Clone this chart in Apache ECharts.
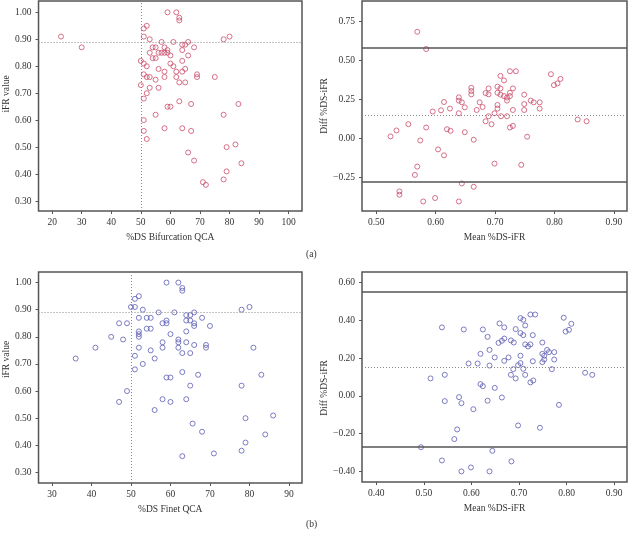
<!DOCTYPE html>
<html>
<head>
<meta charset="utf-8">
<script src="https://cdn.jsdelivr.net/npm/echarts@6/dist/echarts.min.js"></script>
<style>
  html, body { margin: 0; padding: 0; background: #fff; }
  #chart { width: 628px; height: 534px; }
</style>
</head>
<body>
<div id="chart"></div>
<script>
// (a) %DS bifurcation QCA vs iFR, and its Bland-Altman plot
var bifurcationPoints = [
  [23, 0.91], [30, 0.87], [50, 0.82], [50, 0.73], [51, 0.94], [51, 0.91], [51, 0.81], [51, 0.77],
  [51, 0.68], [51, 0.60], [51, 0.56], [52, 0.95], [52, 0.80], [52, 0.76], [52, 0.70], [52, 0.53],
  [53, 0.90], [53, 0.85], [53, 0.76], [53, 0.72], [54, 0.87], [54, 0.83], [55, 0.87], [55, 0.83],
  [55, 0.75], [55, 0.62], [56, 0.85], [56, 0.79], [56, 0.72], [57, 0.89], [57, 0.85], [58, 0.87],
  [58, 0.85], [58, 0.78], [58, 0.76], [58, 0.57], [59, 1.00], [59, 0.86], [59, 0.85], [59, 0.65],
  [60, 0.84], [60, 0.81], [60, 0.65], [61, 0.89], [61, 0.80], [62, 1.00], [62, 0.78], [62, 0.76],
  [63, 0.98], [63, 0.97], [63, 0.74], [63, 0.67], [64, 0.88], [64, 0.86], [64, 0.82], [64, 0.78],
  [64, 0.57], [65, 0.88], [65, 0.79], [65, 0.74], [66, 0.89], [66, 0.84], [66, 0.48], [67, 0.66],
  [67, 0.56], [68, 0.87], [68, 0.45], [69, 0.77], [69, 0.76], [71, 0.37], [72, 0.36], [75, 0.76],
  [78, 0.90], [78, 0.62], [78, 0.38], [79, 0.50], [79, 0.41], [80, 0.91], [82, 0.51], [83, 0.66],
  [84, 0.44]
];
var bifurcationCutoffs = [50, 0.89];

var bifurcationBland = [
  [0.569, 0.682], [0.584, 0.572], [0.524, 0.013], [0.534, 0.051], [0.554, 0.091], [0.574, -0.013],
  [0.584, 0.070], [0.595, 0.172], [0.604, -0.070], [0.609, 0.180], [0.614, -0.108], [0.614, 0.233],
  [0.619, 0.059], [0.624, 0.191], [0.625, 0.049], [0.639, 0.161], [0.639, 0.263], [0.639, 0.242],
  [0.644, 0.231], [0.649, 0.199], [0.649, 0.040], [0.660, 0.324], [0.660, 0.303], [0.660, 0.282],
  [0.664, -0.008], [0.669, 0.182], [0.674, 0.231], [0.679, 0.201], [0.684, 0.290], [0.684, 0.110],
  [0.689, 0.142], [0.689, 0.320], [0.689, 0.282], [0.694, 0.091], [0.699, 0.161], [0.699, -0.161],
  [0.704, 0.331], [0.704, 0.292], [0.704, 0.214], [0.704, 0.191], [0.709, 0.400], [0.709, 0.320],
  [0.709, 0.280], [0.710, 0.142], [0.715, 0.371], [0.715, 0.271], [0.720, 0.261], [0.720, 0.242],
  [0.720, 0.142], [0.725, 0.430], [0.725, 0.292], [0.725, 0.271], [0.725, 0.070], [0.730, 0.320],
  [0.730, 0.182], [0.730, 0.080], [0.735, 0.430], [0.744, -0.169], [0.749, 0.280], [0.749, 0.220],
  [0.749, 0.182], [0.754, 0.011], [0.760, 0.242], [0.765, 0.231], [0.775, 0.231], [0.775, 0.191],
  [0.794, 0.411], [0.799, 0.341], [0.805, 0.352], [0.810, 0.381], [0.839, 0.121], [0.854, 0.110],
  [0.539, -0.339], [0.539, -0.360], [0.565, -0.233], [0.569, -0.180], [0.579, -0.403], [0.599, -0.381],
  [0.644, -0.288], [0.664, -0.309], [0.639, -0.403]
];
// upper limit, mean difference, lower limit
var bifurcationLimits = [0.583, 0.150, -0.280];

// (b) %DS Finet QCA vs iFR, and its Bland-Altman plot
var finetPoints = [
  [36, 0.72], [41, 0.76], [45, 0.80], [47, 0.85], [47, 0.56], [48, 0.79], [49, 0.85], [49, 0.60],
  [50, 0.91], [51, 0.91], [51, 0.94], [52, 0.95], [53, 0.90], [52, 0.87], [52, 0.82], [52, 0.81],
  [52, 0.80], [52, 0.76], [51, 0.73], [51, 0.68], [53, 0.70], [54, 0.87], [55, 0.87], [54, 0.83],
  [55, 0.83], [55, 0.75], [56, 0.72], [56, 0.53], [57, 0.89], [58, 0.85], [58, 0.78], [58, 0.76],
  [58, 0.57], [59, 0.86], [59, 0.85], [59, 1.00], [59, 0.65], [60, 0.65], [60, 0.81], [60, 0.56],
  [61, 0.89], [62, 1.00], [62, 0.79], [62, 0.78], [62, 0.76], [63, 0.98], [63, 0.97], [63, 0.74],
  [63, 0.67], [63, 0.36], [64, 0.88], [64, 0.86], [64, 0.82], [64, 0.78], [64, 0.57], [65, 0.88],
  [65, 0.86], [65, 0.74], [65, 0.62], [66, 0.89], [66, 0.85], [66, 0.84], [66, 0.77], [65.6, 0.48],
  [67, 0.66], [68, 0.87], [68, 0.45], [69, 0.77], [69, 0.76], [70, 0.84], [71, 0.37], [78, 0.90],
  [80, 0.91], [78, 0.62], [78, 0.38], [79, 0.41], [79, 0.50], [81, 0.76], [83, 0.66], [84, 0.44],
  [86, 0.51]
];
var finetCutoffs = [50, 0.891];

var finetBland = [
  [0.494, -0.272], [0.514, 0.092], [0.538, 0.362], [0.544, 0.111], [0.544, -0.028], [0.538, -0.342],
  [0.574, -0.007], [0.579, -0.039], [0.570, -0.178], [0.564, -0.229], [0.579, -0.400], [0.584, 0.351],
  [0.594, 0.171], [0.599, -0.379], [0.604, -0.071], [0.613, 0.171], [0.619, 0.222], [0.619, 0.062],
  [0.624, 0.051], [0.624, 0.351], [0.634, 0.312], [0.634, -0.026], [0.638, 0.243], [0.638, 0.160],
  [0.638, -0.400], [0.644, -0.291], [0.649, 0.042], [0.649, 0.203], [0.659, 0.383], [0.657, 0.280],
  [0.664, 0.291], [0.664, -0.009], [0.669, 0.362], [0.669, 0.303], [0.669, 0.185], [0.678, 0.203],
  [0.683, 0.293], [0.689, 0.282], [0.683, 0.111], [0.684, -0.347], [0.688, 0.141], [0.693, 0.353],
  [0.693, 0.092], [0.698, 0.162], [0.698, -0.157], [0.703, 0.411], [0.703, 0.332], [0.703, 0.212],
  [0.703, 0.173], [0.709, 0.402], [0.709, 0.321], [0.709, 0.143], [0.713, 0.372], [0.713, 0.272],
  [0.713, 0.111], [0.719, 0.261], [0.724, 0.430], [0.724, 0.272], [0.724, 0.071], [0.734, 0.430],
  [0.729, 0.321], [0.729, 0.183], [0.730, 0.081], [0.744, -0.169], [0.749, 0.282], [0.749, 0.222],
  [0.749, 0.178], [0.753, 0.212], [0.753, 0.192], [0.759, 0.243], [0.763, 0.231], [0.769, 0.141],
  [0.774, 0.231], [0.774, 0.192], [0.784, -0.048], [0.794, 0.413], [0.798, 0.340], [0.805, 0.349],
  [0.810, 0.381], [0.839, 0.122], [0.854, 0.111]
];
var finetLimits = [0.549, 0.146, -0.272];

// tick labels
var bifurcationQcaTicks = [20, 30, 40, 50, 60, 70, 80, 90, 100];
var finetQcaTicks = [30, 40, 50, 60, 70, 80, 90];
var ifrTicks = [0.30, 0.40, 0.50, 0.60, 0.70, 0.80, 0.90, 1.00];
var meanTicksA = [0.50, 0.60, 0.70, 0.80, 0.90];
var diffTicksA = [-0.25, 0.00, 0.25, 0.50, 0.75];
var meanTicksB = [0.40, 0.50, 0.60, 0.70, 0.80, 0.90];
var diffTicksB = [-0.40, -0.20, 0.00, 0.20, 0.40, 0.60];

var serif = 'Liberation Serif';
var frameColor = '#555';
var textColor = '#333';
var red = '#cc4d6c';
var blue = '#5c5cb4';

function fmt (digits) {
  return function (v) {
    return v.toFixed(digits).replace('-', '\u2212');
  };
}

// namePad shifts the rotated y title along the axis
function makeAxis (dir, idx, min, max, ticks, digits, name, gap, namePad) {
  return {
    type: 'value',
    gridIndex: idx,
    min: min,
    max: max,
    name: name,
    nameLocation: 'middle',
    nameGap: gap,
    nameTextStyle: { fontFamily: serif, fontSize: 9.5, color: textColor, padding: namePad || 0 },
    axisLine: { show: false, onZero: false },
    axisTick: { show: true, length: 3, customValues: ticks, lineStyle: { color: frameColor } },
    axisLabel: {
      customValues: ticks,
      margin: dir === 'x' ? 6 : 7,
      fontFamily: serif,
      fontSize: 9.5,
      color: textColor,
      formatter: fmt(digits)
    },
    splitLine: { show: false }
  };
}

var dotted = { color: '#888', width: 1, type: [1, 2] };
var solid = { color: frameColor, width: 1.5, type: 'solid' };

function scatter (idx, data, color, lines) {
  return {
    type: 'scatter',
    xAxisIndex: idx,
    yAxisIndex: idx,
    data: data,
    symbol: 'circle',
    symbolSize: 5,
    itemStyle: { color: 'rgba(255,255,255,0)', borderColor: color, borderWidth: 1 },
    markLine: {
      silent: true,
      symbol: ['none', 'none'],
      label: { show: false },
      data: lines
    }
  };
}

var grid = function (left, top, width, height) {
  return { left: left, top: top, width: width, height: height, show: true,
    borderColor: frameColor, borderWidth: 1.5, backgroundColor: 'transparent' };
};

var chart = echarts.init(document.getElementById('chart'));
chart.setOption({
  animation: false,
  backgroundColor: '#fff',
  grid: [
    grid(38, 1, 264, 210),
    grid(362, 1, 265, 210),
    grid(38, 272, 264, 211),
    grid(362, 272, 265, 210)
  ],
  xAxis: [
    makeAxis('x', 0, 15.4, 104.5, bifurcationQcaTicks, 0, '%DS Bifurcation QCA', 21),
    makeAxis('x', 1, 0.476, 0.922, meanTicksA, 2, 'Mean %DS-iFR', 21),
    makeAxis('x', 2, 26.6, 93.3, finetQcaTicks, 0, '%DS Finet QCA', 21),
    makeAxis('x', 3, 0.370, 0.927, meanTicksB, 2, 'Mean %DS-iFR', 21)
  ],
  yAxis: [
    makeAxis('y', 0, 0.263, 1.042, ifrTicks, 2, 'iFR value', 27, [0, 0, 0, 24]),
    makeAxis('y', 1, -0.464, 0.879, diffTicksA, 2, 'Diff %DS-iFR', 30),
    makeAxis('y', 2, 0.261, 1.039, ifrTicks, 2, 'iFR value', 27, [0, 0, 0, 36]),
    makeAxis('y', 3, -0.456, 0.655, diffTicksB, 2, 'Diff %DS-iFR', 30, [0, 22, 0, 0])
  ],
  series: [
    scatter(0, bifurcationPoints, red, [
      { xAxis: bifurcationCutoffs[0], lineStyle: dotted },
      { yAxis: bifurcationCutoffs[1], lineStyle: dotted }
    ]),
    scatter(1, bifurcationBland, red, [
      { yAxis: bifurcationLimits[0], lineStyle: solid },
      { yAxis: bifurcationLimits[1], lineStyle: dotted },
      { yAxis: bifurcationLimits[2], lineStyle: solid }
    ]),
    scatter(2, finetPoints, blue, [
      { xAxis: finetCutoffs[0], lineStyle: dotted },
      { yAxis: finetCutoffs[1], lineStyle: dotted }
    ]),
    scatter(3, finetBland, blue, [
      { yAxis: finetLimits[0], lineStyle: solid },
      { yAxis: finetLimits[1], lineStyle: dotted },
      { yAxis: finetLimits[2], lineStyle: solid }
    ])
  ],
  graphic: [
    { type: 'text', left: 306, top: 249, style: { text: '(a)', font: '9.5px "Liberation Serif"', fill: textColor } },
    { type: 'text', left: 306, top: 519, style: { text: '(b)', font: '9.5px "Liberation Serif"', fill: textColor } }
  ]
});
</script>
</body>
</html>
